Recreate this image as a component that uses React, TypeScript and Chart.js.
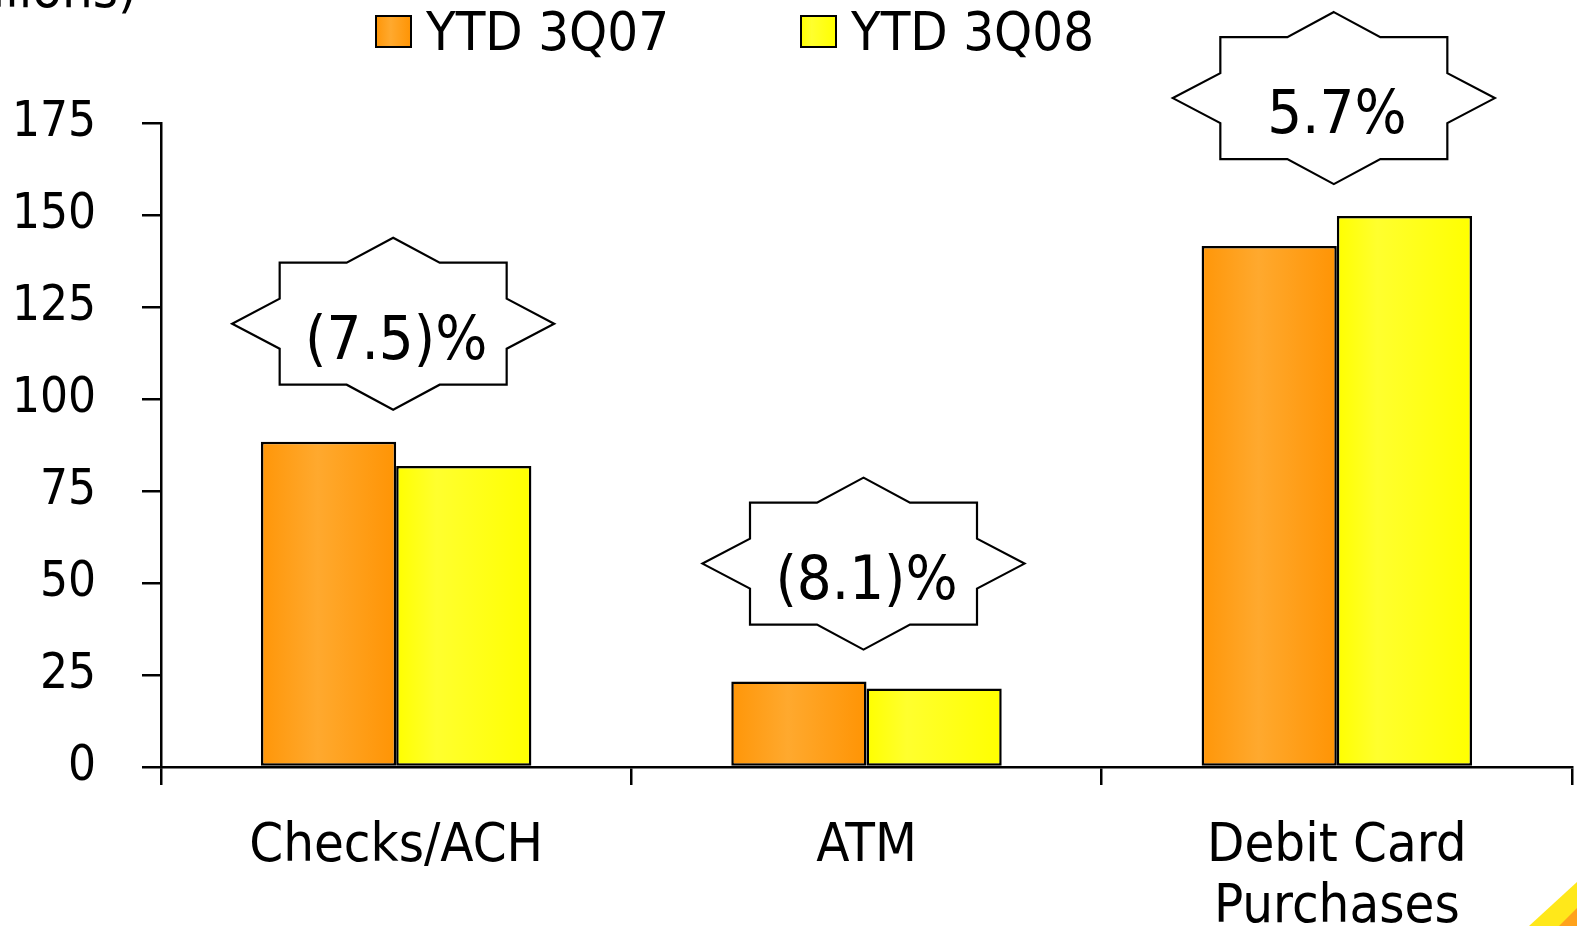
import React, { useEffect, useRef } from "react";
import { Chart, registerables } from "chart.js";

Chart.register(...registerables);

// ---- data ----
const categories: (string | string[])[] = ["Checks/ACH", "ATM", ["Debit Card", "Purchases"]];
const seriesNames = ["YTD 3Q07", "YTD 3Q08"];
const ytd3Q07 = [88.4, 23.2, 141.6];
const ytd3Q08 = [81.8, 21.3, 149.7];
const changeLabels = ["(7.5)%", "(8.1)%", "5.7%"];
const yMin = 0;
const yMax = 175;
const yStep = 25;
const unitsLabel = "(millions)";

// ---- styling ----
const FONT = "'DejaVu Sans Condensed', 'DejaVu Sans', sans-serif";
const W = 1577;
const H = 926;
const CAT_PCT = 0.575;

const orangeStops: [number, string][] = [
  [0, "#FF9608"],
  [0.42, "#FFA92E"],
  [1, "#FF9404"],
];
const yellowStops: [number, string][] = [
  [0, "#FFFF00"],
  [0.3, "#FFFF2E"],
  [1, "#FFFF00"],
];

function gradient(c: CanvasRenderingContext2D, x0: number, x1: number, stops: [number, string][]) {
  const g = c.createLinearGradient(x0, 0, x1, 0);
  stops.forEach(([o, col]) => g.addColorStop(o, col));
  return g;
}

// Horizontal shading across each bar, computed from the category scale.
function barFill(stops: [number, string][]) {
  return (ctx: any) => {
    const chart = ctx.chart;
    const xs = chart.scales?.x;
    if (!chart.chartArea || !xs || ctx.type !== "data") return stops[1][1];
    const n = chart.data.labels.length;
    const cat = (xs.right - xs.left) / n;
    const w = (cat * CAT_PCT) / 2;
    const center = xs.getPixelForValue(ctx.dataIndex);
    const left = center - w + ctx.datasetIndex * w;
    return gradient(chart.ctx, left, left + w, stops);
  };
}

// Eight-point burst drawn around (cx, cy)
function burstPath(c: CanvasRenderingContext2D, cx: number, cy: number) {
  const pts: [number, number][] = [
    [0, -86],
    [46.5, -61],
    [113.5, -61],
    [113.5, -25],
    [161, 0],
    [113.5, 25],
    [113.5, 61],
    [46.5, 61],
    [0, 86],
    [-46.5, 61],
    [-113.5, 61],
    [-113.5, 25],
    [-161, 0],
    [-113.5, -25],
    [-113.5, -61],
    [-46.5, -61],
  ];
  c.beginPath();
  pts.forEach(([dx, dy], i) => {
    if (i === 0) c.moveTo(cx + dx, cy + dy);
    else c.lineTo(cx + dx, cy + dy);
  });
  c.closePath();
}

const calloutPlugin = {
  id: "changeCallouts",
  afterDatasetsDraw(chart: any) {
    const c = chart.ctx as CanvasRenderingContext2D;
    const xs = chart.scales.x;
    const ys = chart.scales.y;
    c.save();
    changeLabels.forEach((label, i) => {
      const center = xs.getPixelForValue(i);
      const top = Math.min(ys.getPixelForValue(ytd3Q07[i]), ys.getPixelForValue(ytd3Q08[i]));
      const cx = center - 3;
      const cy = top - 118;
      burstPath(c, cx, cy);
      c.fillStyle = "#FFFFFF";
      c.fill();
      c.lineWidth = 2.2;
      c.strokeStyle = "#000000";
      c.lineJoin = "miter";
      c.stroke();
      c.fillStyle = "#000000";
      c.font = `61px ${FONT}`;
      c.textAlign = "center";
      c.textBaseline = "alphabetic";
      c.fillText(label, center, cy + 35);
    });
    c.restore();
  },
};

const legendPlugin = {
  id: "seriesLegend",
  afterDraw(chart: any) {
    const c = chart.ctx as CanvasRenderingContext2D;
    const items = [
      { x: 376, stops: orangeStops, text: seriesNames[0] },
      { x: 801, stops: yellowStops, text: seriesNames[1] },
    ];
    c.save();
    items.forEach((it) => {
      const bw = 35;
      const bh = 31;
      const by = 16;
      c.fillStyle = gradient(c, it.x, it.x + bw, it.stops);
      c.fillRect(it.x, by, bw, bh);
      c.lineWidth = 2;
      c.strokeStyle = "#000";
      c.strokeRect(it.x, by, bw, bh);
      c.fillStyle = "#000";
      c.font = `54px ${FONT}`;
      c.textAlign = "left";
      c.textBaseline = "alphabetic";
      c.fillText(it.text, it.x + 50, 50);
    });
    // units caption at the top-left
    c.font = `54px ${FONT}`;
    c.textAlign = "right";
    c.fillText(unitsLabel, 137, 7);
    c.restore();
  },
};

const cornerPlugin = {
  id: "cornerAccent",
  beforeDraw(chart: any) {
    const c = chart.ctx as CanvasRenderingContext2D;
    c.save();
    c.fillStyle = "#FFFFFF";
    c.fillRect(0, 0, chart.width, chart.height);
    const w = chart.width;
    const h = chart.height;
    c.beginPath();
    c.moveTo(w - 48, h);
    c.lineTo(w, h - 44);
    c.lineTo(w, h);
    c.closePath();
    c.fillStyle = "#FFE81A";
    c.fill();
    c.beginPath();
    c.moveTo(w - 18, h);
    c.lineTo(w, h - 18);
    c.lineTo(w, h);
    c.closePath();
    c.fillStyle = "#FFA21C";
    c.fill();
    c.restore();
  },
};

export default function App() {
  const ref = useRef<HTMLCanvasElement | null>(null);

  useEffect(() => {
    if (!ref.current) return;
    const chart = new Chart(ref.current, {
      type: "bar",
      data: {
        labels: categories as any,
        datasets: [
          {
            label: seriesNames[0],
            data: ytd3Q07,
            backgroundColor: barFill(orangeStops) as any,
            borderColor: "#000000",
            borderWidth: 2.5,
            borderSkipped: false,
          },
          {
            label: seriesNames[1],
            data: ytd3Q08,
            backgroundColor: barFill(yellowStops) as any,
            borderColor: "#000000",
            borderWidth: 2.5,
            borderSkipped: false,
          },
        ],
      },
      options: {
        responsive: false,
        devicePixelRatio: 1,
        animation: false,
        datasets: {
          bar: { categoryPercentage: CAT_PCT, barPercentage: 1 },
        },
        layout: { padding: { top: 123, right: 5, left: 0, bottom: 0 } },
        plugins: {
          legend: { display: false },
          tooltip: { enabled: false },
        },
        scales: {
          x: {
            ticks: {
              color: "#000",
              font: { family: FONT, size: 54, lineHeight: 1.12 },
              padding: 32,
              maxRotation: 0,
              autoSkip: false,
            },
            grid: {
              drawOnChartArea: false,
              drawTicks: true,
              tickLength: 18,
              color: "#000",
              lineWidth: 2.5,
              offset: true,
            },
            border: { display: true, color: "#000", width: 2.5 },
            afterFit: (s: any) => {
              s.height = H - 767;
            },
          },
          y: {
            min: yMin,
            max: yMax,
            ticks: {
              stepSize: yStep,
              color: "#000",
              font: { family: FONT, size: 49 },
              padding: 46,
            },
            grid: {
              drawOnChartArea: false,
              drawTicks: true,
              tickLength: 19,
              color: "#000",
              lineWidth: 2.5,
            },
            border: { display: true, color: "#000", width: 2.5 },
            afterFit: (s: any) => {
              s.width = 161;
            },
          },
        },
      },
      plugins: [cornerPlugin, calloutPlugin, legendPlugin],
    });
    return () => chart.destroy();
  }, []);

  return (
    <div style={{ position: "fixed", left: 0, top: 0, width: W, height: H, background: "#fff" }}>
      <canvas ref={ref} width={W} height={H} style={{ width: W, height: H, display: "block" }} />
    </div>
  );
}
